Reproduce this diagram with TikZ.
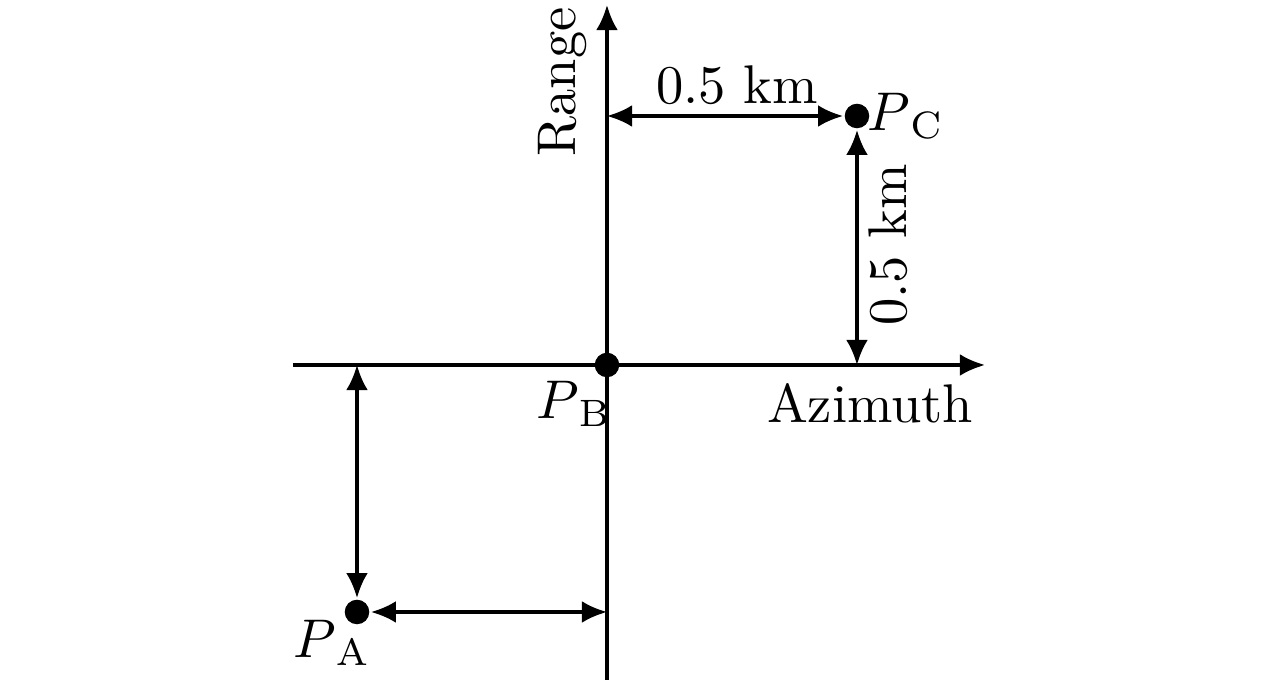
\documentclass[tikz,border=0pt]{standalone}
\usepackage{amsmath}
\usetikzlibrary{arrows.meta}

\begin{document}
\begin{tikzpicture}[x=0.1835pt, y=-0.1835pt, line width=0.6pt, >={Latex[length=4.6pt,width=4pt]}]
\tikzset{dot/.style={circle, fill, inner sep=0pt, minimum size=4.5pt}}
\useasboundingbox (0,0) rectangle (1280,689);
% axes
\coordinate (xs) at (293,365);
\coordinate (xe) at (985,365);
\coordinate (ys) at (607,680);
\coordinate (ye) at (607,5);
\draw [->] (xs) -- (xe);
\draw [->] (ys) -- (ye);
% points
\node [dot] (pb) at (607,365) {};
\node [dot] (pc) at (857,116) {};
\node [dot] (pa) at (357,612) {};
% spacing arrows
\coordinate (cy) at (607,116);
\coordinate (cx) at (857,365);
\coordinate (ax) at (357,365);
\coordinate (ay) at (607,612);
\draw [<->] (cy) -- (pc);
\draw [<->] (pc) -- (cx);
\draw [<->] (ax) -- (pa);
\draw [<->] (pa) -- (ay);
% Text
\node (range) at (563,82) [rotate=90] {Range};
\node (azimuth) at (870,403) {Azimuth};
\node (dh) at (737,85) {0.5 km};
\node (dv) at (888,245) [rotate=90] {0.5 km};
\node (lb) at (574,404) {$P_{\,\mathrm{B}}$};
\node (lc) at (906,116) {$P_{\,\mathrm{C}}$};
\node (la) at (332,643) {$P_{\,\mathrm{A}}$};
\end{tikzpicture}
\end{document}
